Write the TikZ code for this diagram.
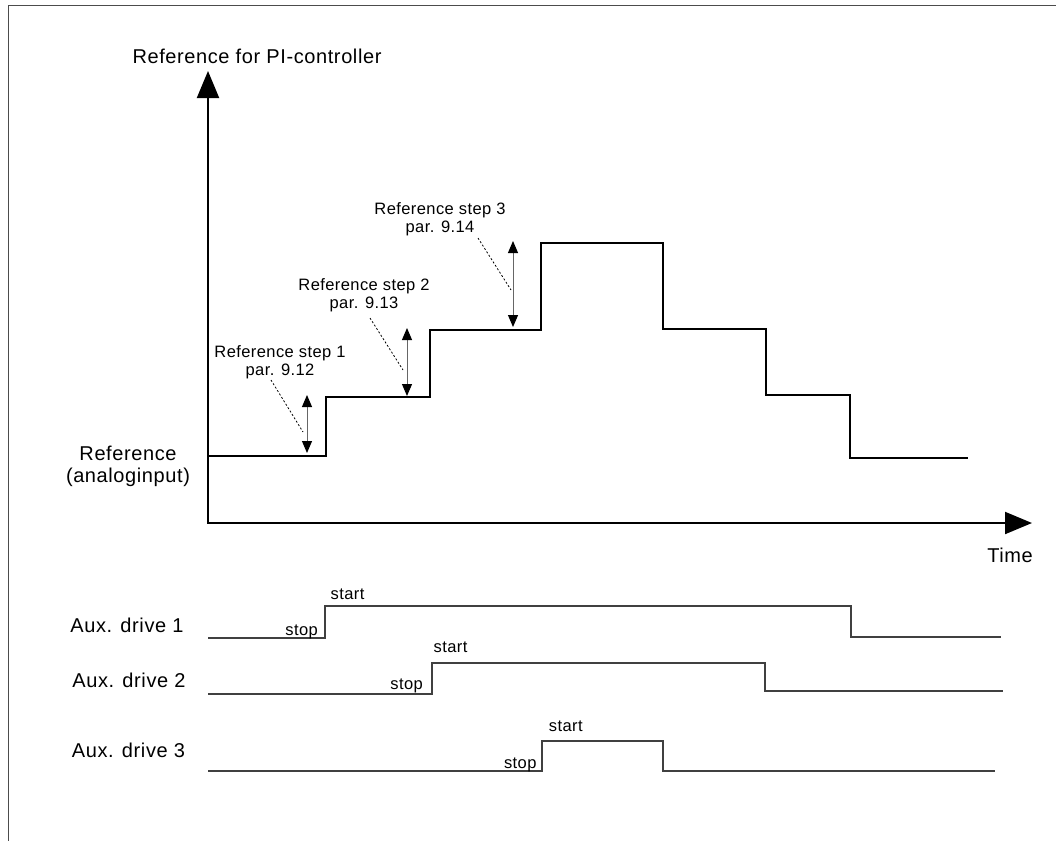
\documentclass[tikz,border=0pt]{standalone}
\usepackage{fontspec}
\setmainfont{Liberation Sans}
\newfontfamily\labbig[LetterSpace=3]{Liberation Sans}
\newfontfamily\labsmall[LetterSpace=2.5]{Liberation Sans}
\usetikzlibrary{arrows.meta}
\begin{document}
\begin{tikzpicture}[x=1pt,y=-1pt,
  big/.style={font=\labbig\fontsize{20}{22}\selectfont, inner sep=0pt, align=center},
  small/.style={font=\labsmall\fontsize{16.5}{18}\selectfont, inner sep=0pt, align=center},
  axis/.style={line width=2pt, line join=miter, {Triangle[length=27pt,width=22pt]}-{Triangle[length=27pt,width=22pt]}},
  curve/.style={line width=2pt, line join=miter},
  drive/.style={line width=1.3pt, draw=black!75},
  stepdim/.style={line width=1pt, draw=black!60, {Triangle[length=12pt,width=10pt,color=black]}-{Triangle[length=12pt,width=10pt,color=black]}},
  leader/.style={line width=0.8pt, dash pattern=on 2pt off 2pt},
  frame/.style={line width=1pt, draw=black!70}]
\useasboundingbox (0,0) rectangle (1056,841);
\fill[white] (0,0) rectangle (1056,841);
% frame
\draw[frame] (1056,5) -- (8,5) -- (8,841);
% axes
\coordinate (O) at (208,523);
\coordinate (ytip) at (208,71);
\coordinate (xtip) at (1032,523);
\draw[axis] (ytip) -- (O) -- (xtip);
\node[big, anchor=base] (ylab) at (257,63) {Reference for PI-controller};
\node[big, anchor=base] (tlab) at (1010,562) {Time};
\node[big, anchor=base] (reflab) at (128,482) {Reference\\(analoginput)};
% reference curve
\draw[curve] (208,456) -- (326,456) -- (326,397) -- (430,397) -- (430,330) -- (541,330) -- (541,243) -- (663,243) -- (663,329) -- (766,329) -- (766,395) -- (850,395) -- (850,458) -- (968,458);
% step dimensions
\draw[stepdim] (307,453) -- (307,395);
\draw[stepdim] (407,396) -- (407,328);
\draw[stepdim] (513,327) -- (513,241);
\node[small, anchor=base] (s1) at (280,375) {Reference step 1\\par. 9.12};
\node[small, anchor=base] (s2) at (364,308) {Reference step 2\\par. 9.13};
\node[small, anchor=base] (s3) at (440,232) {Reference step 3\\par. 9.14};
\coordinate (l1a) at (271,380); \coordinate (l1b) at (303,432);
\coordinate (l2a) at (370,318); \coordinate (l2b) at (403,370);
\coordinate (l3a) at (478,238); \coordinate (l3b) at (511,290);
\draw[leader] (l1a) -- (l1b);
\draw[leader] (l2a) -- (l2b);
\draw[leader] (l3a) -- (l3b);
% aux drives
\node[big, anchor=base] (d1) at (127,632) {Aux. drive 1};
\node[big, anchor=base] (d2) at (129,687) {Aux. drive 2};
\node[big, anchor=base] (d3) at (128.5,757) {Aux. drive 3};
\draw[drive] (208,638) -- (325,638) -- (325,606) -- (851,606) -- (851,637) -- (1001,637);
\draw[drive] (208,694) -- (432,694) -- (432,663) -- (765,663) -- (765,691) -- (1003,691);
\draw[drive] (208,771) -- (542,771) -- (542,741) -- (663,741) -- (663,771) -- (995,771);
\node[small, anchor=base] (stop1) at (301.7,635) {stop};
\node[small, anchor=base] (start1) at (347.5,599) {start};
\node[small, anchor=base] (stop2) at (406.7,689) {stop};
\node[small, anchor=base] (start2) at (450.5,652) {start};
\node[small, anchor=base] (stop3) at (520.3,768) {stop};
\node[small, anchor=base] (start3) at (565.8,731) {start};
\end{tikzpicture}
\end{document}
